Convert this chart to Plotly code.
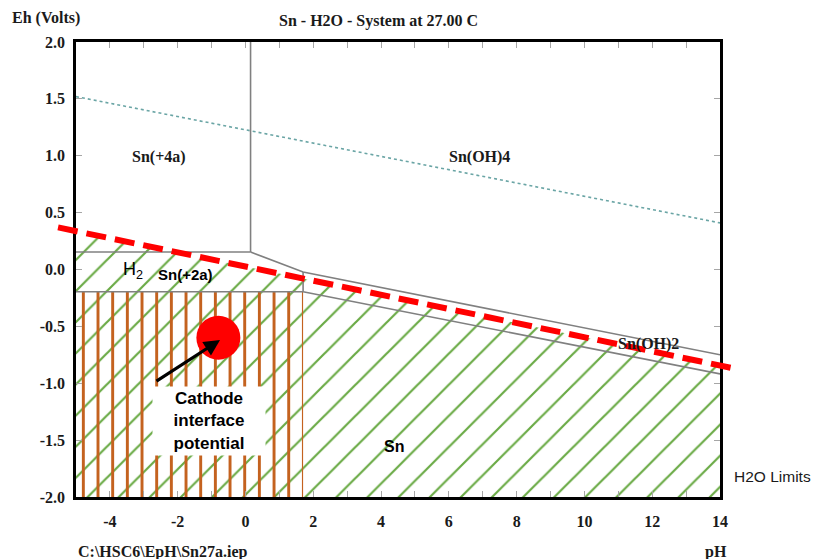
import numpy as np
import plotly.graph_objects as go

# Axis extents and tick labels
PH_RANGE = [-5, 14]
EH_RANGE = [-2, 2]
x_ticks = [-4, -2, 0, 2, 4, 6, 8, 10, 12, 14]
y_ticks = [2.0, 1.5, 1.0, 0.5, 0.0, -0.5, -1.0, -1.5, -2.0]

# Predominance-area boundaries (pH, Eh in volts)
sn4a_snoh4_ph, sn4a_snoh4_eh = [0.15, 0.15], [0.154, 2.0]
sn4a_sn2a_ph, sn4a_sn2a_eh = [-5, 0.15], [0.154, 0.154]
upper_ph, upper_eh = [0.15, 1.7, 14], [0.154, -0.022, -0.75]
sn2a_sn_ph, sn2a_sn_eh = [-5, 1.7], [-0.195, -0.195]
sn2a_snoh2_ph, sn2a_snoh2_eh = [1.7, 1.7], [-0.195, -0.022]
snoh2_sn_ph, snoh2_sn_eh = [1.7, 14], [-0.195, -0.918]

# Water stability limits
o2_ph, o2_eh = [-5, 14], [1.52, 0.41]
h2_ph, h2_eh = [-5.53, 14.5], [0.37, -0.875]

# Low-pH Sn(+2a)/Sn zone
orange_ph = [-5, 1.7]
orange_eh = [-2, -0.195]

# Cathode interface marker
cathode_ph, cathode_eh = [-0.8], [-0.60]
arrow_tail = (-2.67, -0.99)
arrow_head = (-0.75, -0.62)

SERIF = "Liberation Serif"
SANS = "Liberation Sans"
GRAY = "#808080"
GREEN = "#6aaa45"
ORANGE = "#c4621f"

fig = go.Figure()

# Green hatch: everything below the H2 line inside the frame
h2_left = float(np.interp(PH_RANGE[0], h2_ph, h2_eh))
h2_right = float(np.interp(PH_RANGE[1], h2_ph, h2_eh))
fig.add_trace(go.Scatter(
    x=[PH_RANGE[0], PH_RANGE[1], PH_RANGE[1], PH_RANGE[0], PH_RANGE[0]],
    y=[h2_left, h2_right, EH_RANGE[0], EH_RANGE[0], h2_left],
    mode="lines", line=dict(width=0, color="rgba(0,0,0,0)"),
    fill="toself", fillcolor="rgba(0,0,0,0)",
    fillpattern=dict(shape="/", size=22, solidity=0.1, fgcolor=GREEN,
                     fgopacity=1, bgcolor="rgba(0,0,0,0)"),
    hoverinfo="skip", showlegend=False))

# Orange vertical hatch
fig.add_trace(go.Scatter(
    x=[orange_ph[0], orange_ph[1], orange_ph[1], orange_ph[0], orange_ph[0]],
    y=[orange_eh[0], orange_eh[0], orange_eh[1], orange_eh[1], orange_eh[0]],
    mode="lines", line=dict(width=0, color="rgba(0,0,0,0)"),
    fill="toself", fillcolor="rgba(0,0,0,0)",
    fillpattern=dict(shape="|", size=14.67, solidity=0.2, fgcolor=ORANGE,
                     fgopacity=1, bgcolor="rgba(0,0,0,0)"),
    hoverinfo="skip", showlegend=False))

# O2 limit (dotted)
fig.add_trace(go.Scatter(x=o2_ph, y=o2_eh, mode="lines",
                         line=dict(color="#6aa5a5", width=1.6, dash="dot"),
                         hoverinfo="skip", showlegend=False))

# Boundaries between species
for bx, by in [(sn4a_snoh4_ph, sn4a_snoh4_eh), (sn4a_sn2a_ph, sn4a_sn2a_eh),
               (upper_ph, upper_eh), (sn2a_sn_ph, sn2a_sn_eh),
               (sn2a_snoh2_ph, sn2a_snoh2_eh), (snoh2_sn_ph, snoh2_sn_eh)]:
    fig.add_trace(go.Scatter(x=bx, y=by, mode="lines",
                             line=dict(color=GRAY, width=1.6),
                             hoverinfo="skip", showlegend=False))

# Cathode interface potential point
fig.add_trace(go.Scatter(x=cathode_ph, y=cathode_eh, mode="markers",
                         marker=dict(size=44, color="#ff0000", line=dict(width=0)),
                         hoverinfo="skip", showlegend=False))


def px_x(ph):
    return (ph - PH_RANGE[0]) / (PH_RANGE[1] - PH_RANGE[0])


def px_y(eh):
    return (eh - EH_RANGE[0]) / (EH_RANGE[1] - EH_RANGE[0])


# H2 limit drawn bold and dashed, running slightly past the frame
fig.add_shape(type="line", xref="paper", yref="paper",
              x0=px_x(h2_ph[0]), y0=px_y(h2_eh[0]),
              x1=px_x(h2_ph[1]), y1=px_y(h2_eh[1]),
              line=dict(color="#ff0000", width=6, dash="20px,9px"),
              layer="above")

serif_lbl = dict(family=SERIF, size=16, color="#1a1a1a", weight="bold")
sans_lbl = dict(family=SANS, size=16, color="#000000", weight="bold")

annotations = [
    dict(x=-2.55, y=0.99, text="Sn(+4a)", font=serif_lbl),
    dict(x=6.9, y=0.99, text="Sn(OH)4", font=serif_lbl),
    dict(x=11.9, y=-0.655, text="Sn(OH)2", font=serif_lbl),
    dict(x=-1.78, y=-0.04, text="Sn(+2a)", font=dict(sans_lbl, size=15)),
    dict(x=-3.32, y=-0.01, text="H<sub>2</sub>",
         font=dict(family=SANS, size=18, color="#000000")),
    dict(x=4.38, y=-1.56, text="Sn", font=sans_lbl),
    dict(x=-1.08, y=-1.33, text="Cathode<br>interface<br>potential",
         font=dict(sans_lbl, size=17), bgcolor="#ffffff", width=112, height=68,
         borderpad=0, align="center"),
]
for a in annotations:
    fig.add_annotation(xref="x", yref="y", showarrow=False, **a)

fig.add_annotation(xref="x", yref="y", axref="x", ayref="y",
                   x=arrow_head[0], y=arrow_head[1],
                   ax=arrow_tail[0], ay=arrow_tail[1], text="",
                   showarrow=True, arrowhead=2, arrowsize=1, arrowwidth=3.2,
                   arrowcolor="#000000", standoff=0, startstandoff=0)

# Page texts around the frame
page_font = dict(family=SERIF, size=16, color="#1a1a1a", weight="bold")
fig.add_annotation(xref="paper", yref="paper", x=-0.1025, y=1.053,
                   xanchor="left", yanchor="middle", text="Eh (Volts)",
                   showarrow=False, font=page_font)
fig.add_annotation(xref="paper", yref="paper", x=0.469, y=1.046,
                   xanchor="center", yanchor="middle",
                   text="Sn - H2O - System at 27.00 C",
                   showarrow=False, font=page_font)
fig.add_annotation(xref="paper", yref="paper", x=0.0, y=-0.121,
                   xanchor="left", yanchor="middle",
                   text="C:\\HSC6\\EpH\\Sn27a.iep",
                   showarrow=False, font=page_font)
fig.add_annotation(xref="paper", yref="paper", x=0.994, y=-0.121,
                   xanchor="center", yanchor="middle", text="pH",
                   showarrow=False, font=page_font)
fig.add_annotation(xref="paper", yref="paper", x=1.081, y=0.044,
                   xanchor="center", yanchor="middle", text="H2O Limits",
                   showarrow=False,
                   font=dict(family=SANS, size=15.5, color="#1a1a1a"))

tick_font = dict(family=SERIF, size=16, color="#1a1a1a", weight="bold")
fig.update_xaxes(range=PH_RANGE, tickmode="array", tickvals=x_ticks,
                 ticktext=[str(v) for v in x_ticks], tickfont=tick_font,
                 ticks="inside", ticklen=6, tickwidth=1, tickcolor="#a6a6a6",
                 minor=dict(dtick=1, tick0=-5, ticks="inside", ticklen=6,
                            tickwidth=1, tickcolor="#a6a6a6", showgrid=False),
                 showline=True, linecolor="#000000", linewidth=2.5,
                 mirror="allticks", showgrid=False, zeroline=False,
                 ticklabelstandoff=8)
fig.update_yaxes(range=EH_RANGE, tickmode="array", tickvals=y_ticks,
                 ticktext=[f"{v:.1f}" for v in y_ticks], tickfont=tick_font,
                 ticks="inside", ticklen=6, tickwidth=1, tickcolor="#a6a6a6",
                 showline=True, linecolor="#000000", linewidth=2.5,
                 mirror="allticks", showgrid=False, zeroline=False,
                 ticklabelstandoff=5)

fig.update_layout(width=813, height=559,
                  margin=dict(l=76, r=93, t=42, b=62),
                  paper_bgcolor="#ffffff", plot_bgcolor="#ffffff",
                  showlegend=False)

fig.write_html("out.html")
